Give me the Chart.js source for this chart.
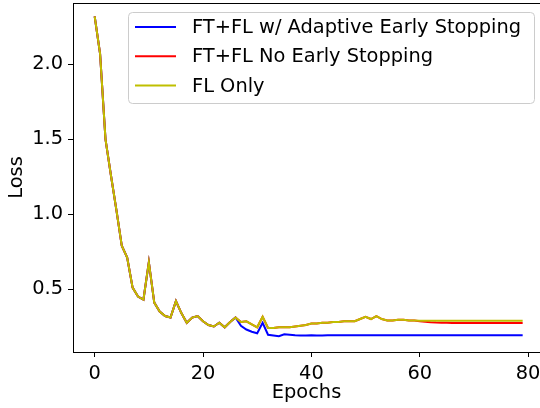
<!DOCTYPE html>
<html>
<head>
<meta charset="utf-8">
<script src="https://cdn.jsdelivr.net/npm/chart.js@4/dist/chart.umd.min.js"></script>
<style>
  html, body { margin: 0; padding: 0; background: #fff; overflow: hidden; }
  canvas { display: block; }
</style>
</head>
<body>
<canvas id="c" width="540" height="408"></canvas>
<script>
const epochs = [0,1,2,3,4,5,6,7,8,9,10,11,12,13,14,15,16,17,18,19,20,21,22,23,24,25,26,27,28,29,30,31,32,33,34,35,36,37,38,39,40,41,42,43,44,45,46,47,48,49,50,51,52,53,54,55,56,57,58,59,60,61,62,63,64,65,66,67,68,69,70,71,72,73,74,75,76,77,78,79];

const adaptiveLoss = [2.32,2.07,1.50,1.26,1.03,0.79,0.71,0.51,0.45,0.43,0.68,0.41,0.35,0.32,0.31,0.42,0.34,0.275,0.31,0.32,0.285,0.26,0.25,0.275,0.245,0.28,0.31,0.255,0.23,0.215,0.205,0.275,0.195,0.19,0.185,0.198,0.195,0.192,0.19,0.19,0.192,0.19,0.19,0.191,0.191,0.192,0.192,0.192,0.192,0.192,0.192,0.192,0.192,0.192,0.192,0.192,0.192,0.192,0.192,0.192,0.192,0.192,0.192,0.192,0.192,0.192,0.192,0.192,0.192,0.192,0.192,0.192,0.192,0.192,0.192,0.192,0.192,0.192,0.192,0.192];

const noStopLoss = [2.32,2.07,1.50,1.26,1.03,0.79,0.71,0.51,0.45,0.43,0.68,0.41,0.35,0.32,0.31,0.42,0.34,0.275,0.31,0.32,0.285,0.26,0.25,0.275,0.245,0.28,0.31,0.28,0.285,0.265,0.245,0.315,0.24,0.24,0.245,0.245,0.245,0.25,0.255,0.26,0.27,0.27,0.275,0.275,0.28,0.28,0.285,0.285,0.285,0.30,0.315,0.30,0.32,0.30,0.29,0.29,0.295,0.295,0.29,0.29,0.285,0.282,0.279,0.277,0.276,0.275,0.274,0.274,0.274,0.273,0.273,0.273,0.273,0.273,0.273,0.273,0.273,0.273,0.273,0.273];

const flOnlyLoss = [2.32,2.07,1.50,1.26,1.03,0.79,0.71,0.51,0.45,0.43,0.68,0.41,0.35,0.32,0.31,0.42,0.34,0.275,0.31,0.32,0.285,0.26,0.25,0.275,0.245,0.28,0.31,0.28,0.285,0.265,0.245,0.315,0.24,0.24,0.245,0.245,0.245,0.25,0.255,0.26,0.27,0.27,0.275,0.275,0.28,0.28,0.285,0.285,0.285,0.30,0.315,0.30,0.32,0.30,0.29,0.29,0.295,0.295,0.29,0.29,0.289,0.288,0.288,0.288,0.288,0.288,0.288,0.288,0.288,0.288,0.288,0.288,0.288,0.288,0.288,0.288,0.288,0.288,0.288,0.288];

const seriesNames = ["FT+FL w/ Adaptive Early Stopping", "FT+FL No Early Stopping", "FL Only"];
const seriesColors = ["#0000ff", "#ff0000", "#bfbf00"];
const xTickValues = [0, 20, 40, 60, 80];
const yTickValues = [0.5, 1.0, 1.5, 2.0];

const FONT = "'DejaVu Sans', sans-serif";
const FS = 19.4;

function pts(vals) { return epochs.map((e, i) => ({ x: e, y: vals[i] })); }

const seriesValues = [adaptiveLoss, noStopLoss, flOnlyLoss];

const datasets = seriesValues.map((vals, i) => ({
  label: seriesNames[i],
  data: pts(vals),
  borderColor: seriesColors[i],
  backgroundColor: seriesColors[i],
  borderWidth: 2,
  pointRadius: 0,
  tension: 0,
  fill: false,
  order: 2 - i
}));

const framePlugin = {
  id: 'frameAndLegend',
  afterDraw(chart) {
    const ctx = chart.ctx;
    const a = chart.chartArea;
    ctx.save();
    ctx.strokeStyle = '#000';
    ctx.lineWidth = 1;
    ctx.beginPath();
    ctx.moveTo(a.left, Math.round(a.top) + 0.5);
    ctx.lineTo(a.right, Math.round(a.top) + 0.5);
    ctx.stroke();
    const bx = 128.5, by = 12.5, bw = 406, bh = 91;
    ctx.fillStyle = 'rgba(255,255,255,0.8)';
    ctx.strokeStyle = '#cccccc';
    ctx.lineWidth = 1;
    ctx.beginPath();
    ctx.roundRect(bx, by, bw, bh, 4);
    ctx.fill();
    ctx.stroke();
    ctx.font = FS + 'px ' + FONT;
    ctx.textBaseline = 'middle';
    ctx.textAlign = 'left';
    chart.data.datasets.forEach((ds, i) => {
      const y = 27 + i * 29.3;
      ctx.strokeStyle = ds.borderColor;
      ctx.lineWidth = 2;
      ctx.beginPath();
      ctx.moveTo(135, y);
      ctx.lineTo(176, y);
      ctx.stroke();
      ctx.fillStyle = '#000';
      ctx.fillText(ds.label, 192, y + 1);
    });
    ctx.restore();
  }
};

new Chart(document.getElementById('c'), {
  type: 'line',
  data: { datasets },
  options: {
    responsive: false,
    animation: false,
    devicePixelRatio: 1,
    layout: { padding: { top: 3, left: 0, right: 0, bottom: 0 } },
    plugins: { legend: { display: false }, tooltip: { enabled: false } },
    scales: {
      x: {
        type: 'linear',
        min: -4.0,
        max: 82.2,
        afterBuildTicks: s => { s.ticks = xTickValues.map(v => ({ value: v })); },
        afterFit: s => { s.height = 56; s.paddingLeft = 0; s.paddingRight = 0; },
        grid: { drawOnChartArea: false, drawTicks: true, tickLength: 5, color: '#000', lineWidth: 1 },
        border: { display: true, color: '#000', width: 1 },
        ticks: { color: '#000', font: { family: FONT, size: FS }, padding: 5, maxRotation: 0,
                 callback: v => String(v) },
        title: { display: true, text: 'Epochs', color: '#000', font: { family: FONT, size: FS },
                 padding: { top: 0, bottom: 3 } }
      },
      y: {
        type: 'linear',
        min: 0.08,
        max: 2.41,
        afterBuildTicks: s => { s.ticks = yTickValues.map(v => ({ value: v })); },
        afterFit: s => { s.width = 73; s.paddingTop = 0; s.paddingBottom = 0; },
        grid: { drawOnChartArea: false, drawTicks: true, tickLength: 5, color: '#000', lineWidth: 1 },
        border: { display: true, color: '#000', width: 1 },
        ticks: { color: '#000', font: { family: FONT, size: FS }, padding: 5,
                 callback: v => Number(v).toFixed(1) },
        title: { display: true, text: 'Loss', color: '#000', font: { family: FONT, size: FS },
                 padding: { top: 5, bottom: 0 } }
      }
    }
  },
  plugins: [framePlugin]
});
</script>
</body>
</html>
